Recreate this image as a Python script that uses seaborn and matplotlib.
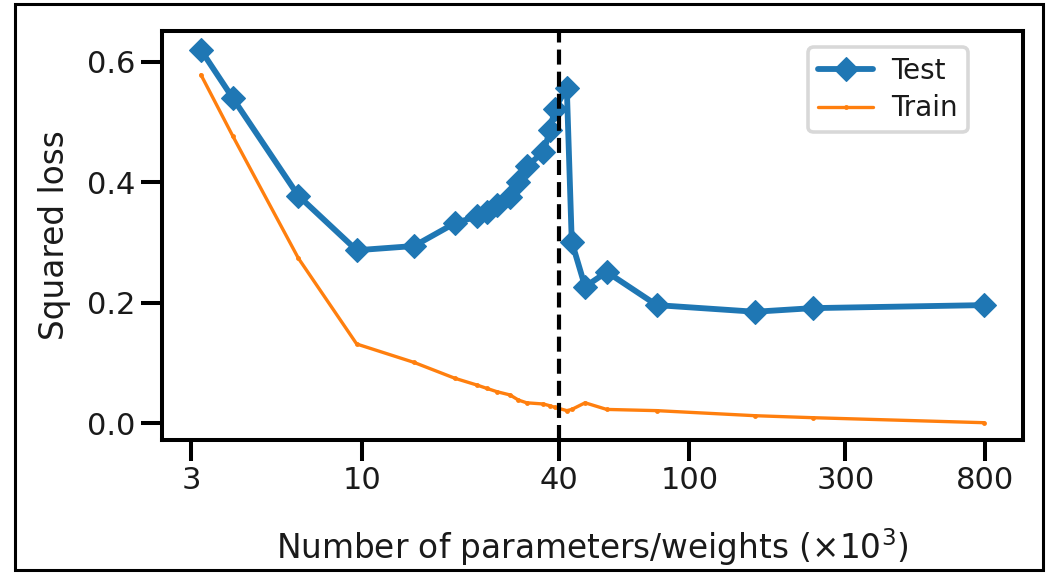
import numpy as np
import pandas as pd
import seaborn as sns
import matplotlib
matplotlib.use("Agg")
import matplotlib.pyplot as plt
from matplotlib.patches import Rectangle

# ---- data ----
params = [3.21, 4.02, 6.37, 9.61, 14.39, 19.2, 22.4, 24.0, 25.8, 28.3, 30.0, 31.8,
          35.8, 37.5, 38.8, 42.2, 43.7, 48.0, 55.9, 79.5, 158.8, 238.5, 796]
test_loss = [0.619, 0.539, 0.3775, 0.287, 0.294, 0.332, 0.343, 0.351, 0.362, 0.376,
             0.401, 0.426, 0.450, 0.486, 0.522, 0.556, 0.301, 0.2265, 0.251, 0.196,
             0.185, 0.191, 0.196]
train_loss = [0.578, 0.476, 0.274, 0.1315, 0.101, 0.0746, 0.0635, 0.058, 0.0524, 0.047,
              0.0386, 0.034, 0.032, 0.029, 0.0265, 0.021, 0.023, 0.034, 0.023, 0.021,
              0.0126, 0.0093, 0.001]
threshold = 40
xticks = [3, 10, 40, 100, 300, 800]
xticklabels = ["3", "10", "40", "100", "300", "800"]
yticks = [0.0, 0.2, 0.4, 0.6]
yticklabels = ["0.0", "0.2", "0.4", "0.6"]

df = pd.DataFrame({"params": params, "Test": test_loss, "Train": train_loss})

sns.set_theme(style="ticks")
plt.rcParams["font.family"] = ["DejaVu Sans"]

fig = plt.figure(figsize=(10.46, 5.74), dpi=100)
ax = fig.add_axes([162 / 1046, 1 - 440 / 574, (1023 - 162) / 1046, (440 - 31) / 574])

sns.lineplot(data=df, x="params", y="Test", ax=ax, color="#1f77b4", linewidth=4.2,
             marker="D", markersize=12, markeredgewidth=0.8, markeredgecolor="#1f77b4",
             label="Test", sort=False)
sns.lineplot(data=df, x="params", y="Train", ax=ax, color="#ff7f0e", linewidth=2.4,
             marker="o", markersize=3.5, markeredgewidth=0, label="Train", sort=False)

ax.axvline(threshold, color="black", linewidth=3.0, linestyle=(0, (3.6, 1.7)), zorder=5)

ax.set_xscale("log")
ax.set_xlim(2.44, 1048)
ax.set_ylim(-0.0277, 0.6506)
ax.set_xticks(xticks)
ax.set_xticklabels(xticklabels)
ax.xaxis.set_minor_locator(matplotlib.ticker.NullLocator())
ax.set_yticks(yticks)
ax.set_yticklabels(yticklabels)

ax.tick_params(axis="both", which="major", labelsize=22, length=15, width=2.9,
               color="black", labelcolor="#1a1a1a", pad=4)
for s in ax.spines.values():
    s.set_visible(True)
    s.set_linewidth(2.9)
    s.set_color("black")

ax.set_xlabel("Number of parameters/weights (×10$^3$)", fontsize=23.6, color="#1a1a1a",
              labelpad=22)
ax.set_ylabel("Squared loss", fontsize=23.6, color="#1a1a1a", labelpad=12)

leg = ax.legend(loc="upper right", bbox_to_anchor=(0.936, 0.961), borderaxespad=0,
                fontsize=20, frameon=True, fancybox=True, handlelength=2.0,
                borderpad=0.35, labelspacing=0.35, handletextpad=0.65)
leg.get_frame().set_edgecolor("#cfcfcf")
leg.get_frame().set_linewidth(2.6)
for t in leg.get_texts():
    t.set_color("#1a1a1a")

# outer frame around the whole picture
fig.patches.append(Rectangle((15 / 1046, 1 - 570 / 574), (1043 - 15) / 1046, (570 - 4) / 574,
                             transform=fig.transFigure, fill=False, edgecolor="black",
                             linewidth=2.2))

fig.savefig("out.png", dpi=100)
